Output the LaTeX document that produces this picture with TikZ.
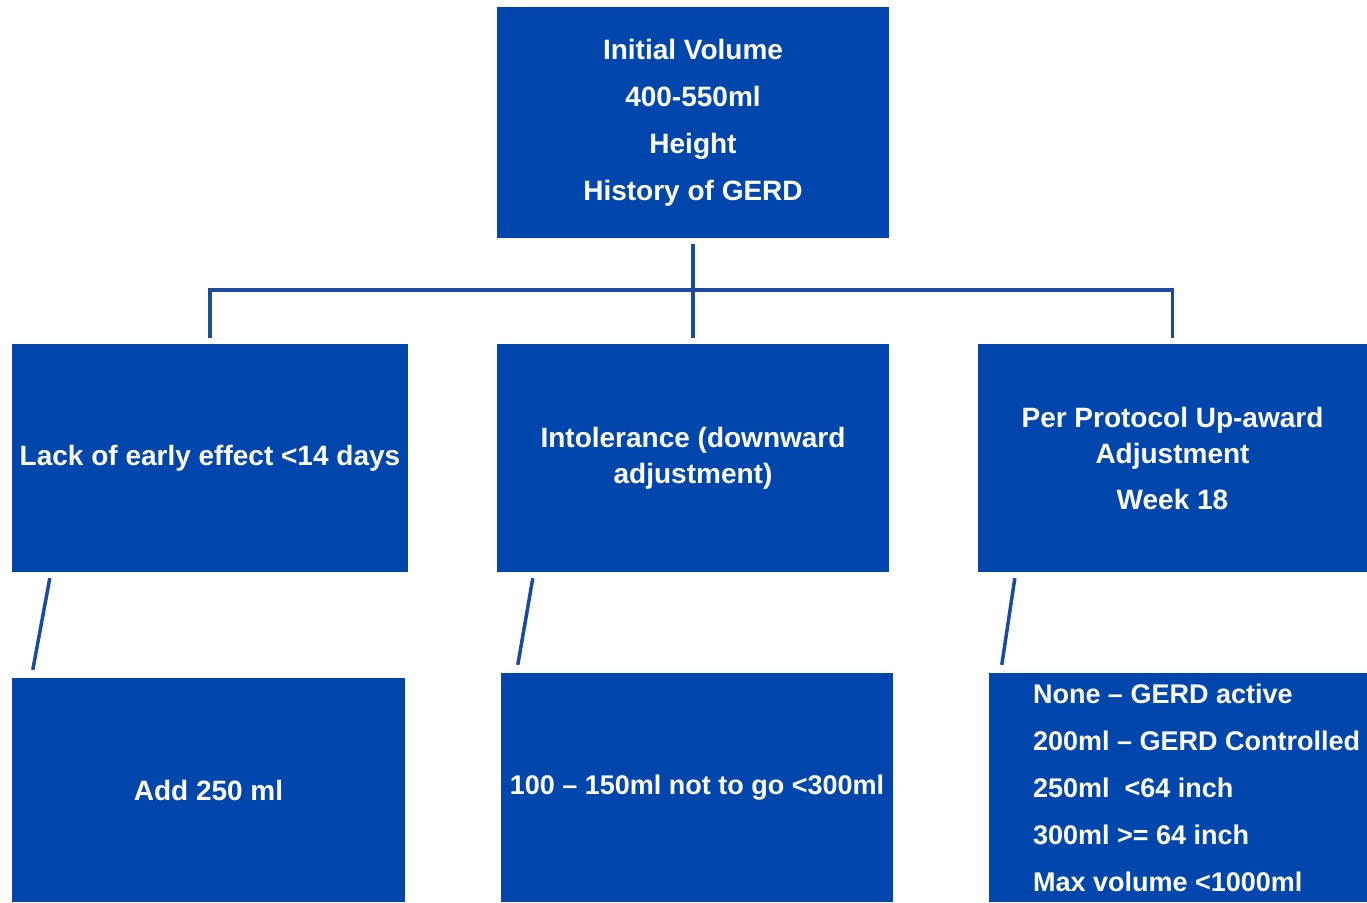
\documentclass[tikz,border=0pt]{standalone}
\usepackage{fontspec}
\setmainfont{Liberation Sans}
\usetikzlibrary{positioning}
\definecolor{boxblue}{RGB}{0,70,172}
\definecolor{lineblue}{RGB}{28,74,158}
\newcommand{\boxfont}{\fontsize{28}{36}\selectfont\bfseries}
\newcommand{\listfont}{\fontsize{27}{36}\selectfont\bfseries}

\begin{document}
\begin{tikzpicture}[x=1pt,y=-1pt,
    box/.style={fill=boxblue,draw=none,inner sep=0pt,text=white,font=\boxfont,align=center},
    link/.style={draw=lineblue,line width=3.5pt}]
    \useasboundingbox (0,0) rectangle (1367,902);

    \node[box,minimum width=392pt,minimum height=231pt] (initial) at (693,122.5)
      {Initial Volume\\[11pt] 400-550ml\\[11pt] Height\\[11pt] History of GERD};

    \node[box,minimum width=396pt,minimum height=228pt] (lack) at (210,458)
      {Lack of early effect <14 days};
    \node[box,minimum width=392pt,minimum height=228pt] (intol) at (693,458)
      {Intolerance (downward\\ adjustment)};
    \node[box,minimum width=389pt,minimum height=228pt] (proto) at (1172.5,458)
      {Per Protocol Up-award\\ Adjustment\\[10pt] Week 18};

    \node[box,minimum width=393pt,minimum height=224pt] (addvol) at (208.5,790) {Add 250 ml};
    \node[box,minimum width=392pt,minimum height=229pt,font=\listfont] (reduce) at (697,787.5)
      {100 -- 150ml not to go <300ml};
    \node[box,minimum width=378pt,minimum height=229pt] (plan) at (1178,787.5) {};
    \node[box,fill=none,anchor=west,align=left,font=\listfont] (plantext) at ([xshift=44pt]plan.west)
      {None -- GERD active\\[11pt] 200ml -- GERD Controlled\\[11pt] 250ml\ \ <64 inch\\[11pt]
       300ml >= 64 inch\\[11pt] Max volume <1000ml};

    \coordinate (bar) at (693,290);
    \draw[link] ([yshift=-6pt]initial.south) -- ([yshift=6pt]intol.north);
    \draw[link] ([yshift=6pt]lack.north) |- (bar) -| ([yshift=6pt]proto.north);

    \draw[link] ([xshift=38pt,yshift=-6pt]lack.south west) -- ([xshift=21pt,yshift=8pt]addvol.north west);
    \draw[link] ([xshift=36pt,yshift=-6pt]intol.south west) -- ([xshift=17pt,yshift=8pt]reduce.north west);
    \draw[link] ([xshift=37pt,yshift=-6pt]proto.south west) -- ([xshift=13pt,yshift=8pt]plan.north west);
\end{tikzpicture}
\end{document}
